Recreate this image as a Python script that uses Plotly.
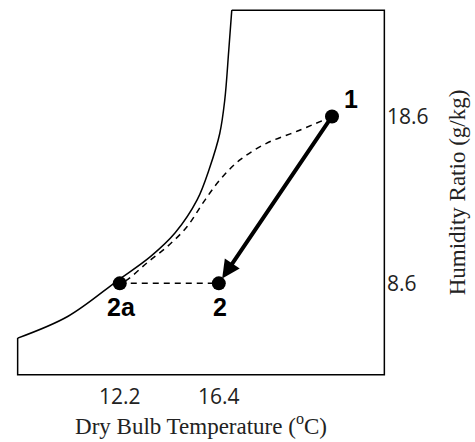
import plotly.graph_objects as go

# Saturation curve, dry bulb °C vs humidity ratio g/kg
sat_x = [7.87, 10.01, 12.11, 13.50, 14.55, 15.48, 16.02, 16.44, 16.65, 16.82, 16.95]
sat_y = [5.32, 6.63, 8.77, 10.20, 11.63, 13.60, 15.56, 17.58, 19.55, 22.52, 24.97]

# Chart boundary corners (rest of the outline)
frame_x = [16.95, 23.42, 23.42, 7.87, 7.87]
frame_y = [24.97, 24.97, 3.12, 3.12, 5.32]

# Dashed process path 1 -> 2a
dash_x = [21.2, 19.80, 18.42, 17.28, 16.44, 15.73, 15.05, 14.21, 13.37, 12.53, 12.2]
dash_y = [18.6, 17.76, 16.99, 15.98, 14.79, 13.42, 11.99, 10.80, 9.85, 8.83, 8.6]

# State points
pt_names = ["1", "2", "2a"]
pt_x = [21.2, 16.4, 12.2]
pt_y = [18.6, 8.6, 8.6]

x_ticks = [12.2, 16.4]
y_ticks = [8.6, 18.6]

fig = go.Figure()
fig.add_trace(go.Scatter(x=sat_x, y=sat_y, mode="lines", line_shape="spline",
                         line=dict(color="black", width=1.5), hoverinfo="skip"))
fig.add_trace(go.Scatter(x=frame_x, y=frame_y, mode="lines",
                         line=dict(color="black", width=1.5), hoverinfo="skip"))
fig.add_trace(go.Scatter(x=dash_x, y=dash_y, mode="lines", line_shape="spline",
                         line=dict(color="black", width=1.5, dash="6px,5px"), hoverinfo="skip"))
fig.add_trace(go.Scatter(x=[pt_x[2], pt_x[1]], y=[pt_y[2], pt_y[1]], mode="lines",
                         line=dict(color="black", width=1.5, dash="6px,5px"), hoverinfo="skip"))
fig.add_trace(go.Scatter(x=pt_x, y=pt_y, mode="markers",
                         marker=dict(color="black", size=14), hoverinfo="skip"))

# Arrow 1 -> 2
fig.add_annotation(x=pt_x[1], y=pt_y[1], ax=pt_x[0], ay=pt_y[0], xref="x", yref="y",
                   axref="x", ayref="y", text="", showarrow=True, arrowhead=2,
                   arrowsize=0.9, arrowwidth=4, arrowcolor="black", standoff=6)

label_font = dict(family="Liberation Sans, Arial", size=25, color="black")
fig.add_annotation(x=pt_x[0], y=pt_y[0], text="<b>1</b>", showarrow=False,
                   xshift=19, yshift=17, font=label_font)
fig.add_annotation(x=pt_x[1], y=pt_y[1], text="<b>2</b>", showarrow=False,
                   xshift=1, yshift=-24, font=label_font)
fig.add_annotation(x=pt_x[2], y=pt_y[2], text="<b>2a</b>", showarrow=False,
                   xshift=2, yshift=-24, font=label_font)

fig.update_layout(
    width=475, height=442,
    margin=dict(l=16, r=89, t=9, b=66),
    plot_bgcolor="white", paper_bgcolor="white",
    showlegend=False,
    xaxis=dict(range=[7.8, 23.49], tickvals=x_ticks, ticktext=[str(v) for v in x_ticks],
               showgrid=False, zeroline=False, showline=False, ticks="",
               tickfont=dict(family="Open Sans", size=21, color="#222"),
               ticklabelstandoff=6,
               title=dict(text="Dry Bulb Temperature (<sup>o</sup>C)",
                          font=dict(family="Liberation Serif", size=23, color="#222"),
                          standoff=6)),
    yaxis=dict(range=[3.05, 25.04], side="right", tickvals=y_ticks,
               ticktext=[str(v) for v in y_ticks],
               showgrid=False, zeroline=False, showline=False, ticks="",
               tickfont=dict(family="Open Sans", size=21, color="#222"),
               title=dict(text="Humidity Ratio (g/kg)",
                          font=dict(family="Liberation Serif", size=23, color="#222"),
                          standoff=21)),
)

fig.write_html("out.html")
